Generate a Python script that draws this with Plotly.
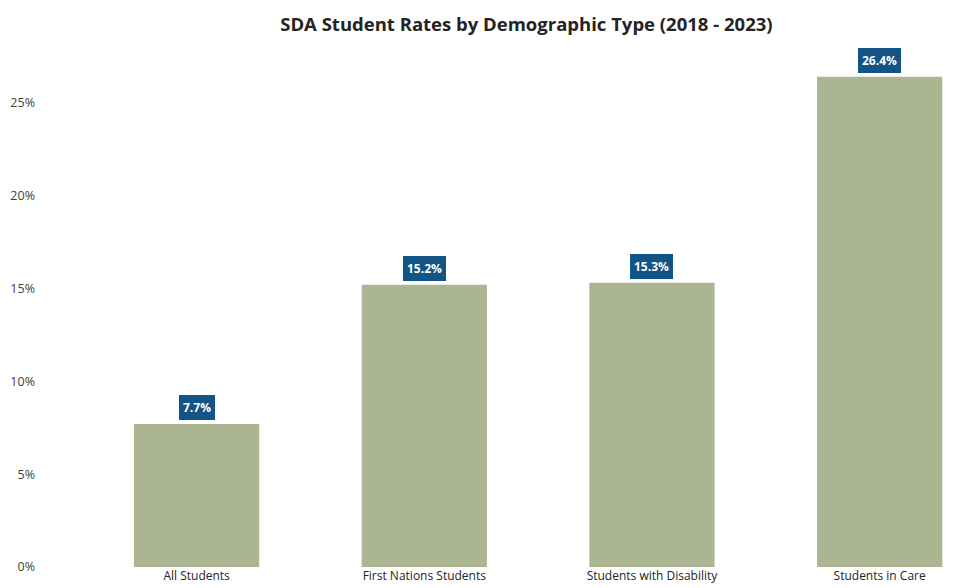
import plotly.graph_objects as go

categories = ["All Students", "First Nations Students", "Students with Disability", "Students in Care"]
rates = [7.7, 15.2, 15.3, 26.4]
tick_vals = [0, 5, 10, 15, 20, 25]
tick_text = ["0%", "5%", "10%", "15%", "20%", "25%"]

fig = go.Figure()
fig.add_trace(go.Bar(
    x=list(range(len(categories))), y=rates,
    marker=dict(color="#abb592", line=dict(width=0)),
    width=0.55, hoverinfo="skip",
))

for i, v in enumerate(rates):
    fig.add_annotation(
        x=i, y=v, text=f"<b>{v:.1f}%</b>", showarrow=False,
        yanchor="bottom", yshift=4,
        font=dict(family="Open Sans, Noto Sans, sans-serif", size=12, color="white"),
        bgcolor="#125486", borderpad=2, bordercolor="#125486", borderwidth=2,
    )

fig.update_layout(
    width=973, height=588,
    margin=dict(l=60, r=0, t=47, b=21),
    paper_bgcolor="white", plot_bgcolor="white",
    title=dict(text="<b>SDA Student Rates by Demographic Type (2018 - 2023)</b>",
               x=0.541, xanchor="center", y=0.958, yanchor="middle",
               font=dict(family="Open Sans, Noto Sans, sans-serif", size=18.5, color="#252423")),
    font=dict(family="Open Sans, Noto Sans, sans-serif", size=12, color="#252423"),
    showlegend=False, bargap=0.45,
    xaxis=dict(range=[-0.6, 3.41], tickvals=list(range(len(categories))), ticktext=categories,
               showgrid=False, zeroline=False, showline=False, ticks="",
               tickfont=dict(size=12, color="#252423")),
    yaxis=dict(range=[0, 28], tickvals=tick_vals, ticktext=tick_text,
               showgrid=False, zeroline=False, showline=False, ticks="",
               ticklabelstandoff=24,
               tickfont=dict(size=12.5, color="#403f3d")),
)

fig.write_html("out.html")
